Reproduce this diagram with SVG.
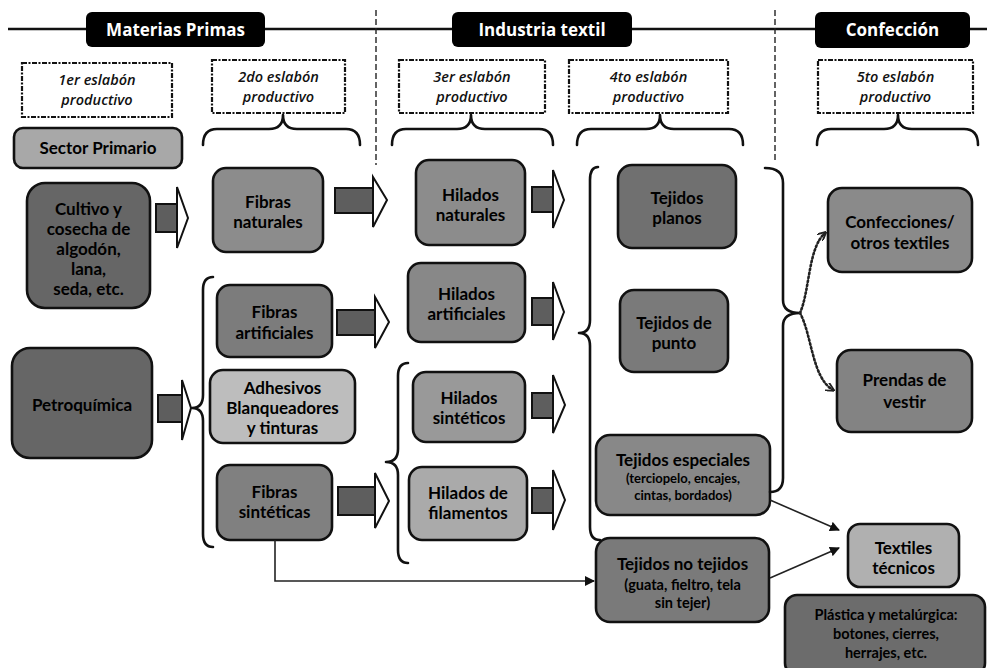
<svg xmlns="http://www.w3.org/2000/svg" width="987" height="668" viewBox="0 0 987 668">
  <style>
    .hdr { fill: #000; }
    .hdr-t { fill: #fff; font-family: "Open Sans", "Liberation Sans", sans-serif; font-weight: 700; font-size: 17px; text-anchor: middle; }
    .esl { fill: #fff; stroke: #111; stroke-width: 2.2; stroke-dasharray: 5 1.5 2 1.5; }
    .esl-t { fill: #111; font-family: "Open Sans", "Liberation Sans", sans-serif; font-style: italic; font-weight: 600; font-size: 14.5px; text-anchor: middle; }
    .node { stroke: #111; stroke-width: 2.6; }
    .nt { fill: #000; font-family: Lato, "Liberation Sans", sans-serif; font-weight: 700; font-size: 17px; text-anchor: middle; }
    .nt-s { font-size: 13px; }
    .nt-m { font-size: 14.5px; }
    .brace { fill: none; stroke: #111; stroke-width: 2.6; stroke-linecap: round; stroke-linejoin: round; }
    .shaft { fill: #5e5e5e; stroke: #111; stroke-width: 2; }
    .head { fill: #fff; stroke: #111; stroke-width: 2; stroke-linejoin: miter; }
    .link { fill: none; stroke: #222; stroke-width: 1.6; }
    .dot { fill: none; stroke: #222; stroke-width: 2.6; stroke-dasharray: 1.5 2.5; stroke-linecap: round; }
    .rule { fill: none; stroke: #111; stroke-width: 2.4; }
    .divider { fill: none; stroke: #222; stroke-width: 1.4; stroke-dasharray: 6 3; }
  </style>
  <defs>
    <marker id="arr" viewBox="0 0 10 10" refX="9" refY="5" markerWidth="10" markerHeight="10" markerUnits="userSpaceOnUse" orient="auto">
      <path d="M0,0 L10,5 L0,10 Z" fill="#111"/>
    </marker>
    <marker id="arr-dot" viewBox="0 0 10 10" refX="8" refY="5" markerWidth="9" markerHeight="9" markerUnits="userSpaceOnUse" orient="auto">
      <path d="M0,0 L10,5 L0,10" fill="none" stroke="#222" stroke-width="2"/>
    </marker>
  </defs>

  <!-- title rule and column dividers -->
  <g id="frame">
    <line class="rule" x1="8" y1="29" x2="987" y2="29"/>
    <line class="divider" x1="376" y1="10" x2="376" y2="165"/>
    <line class="divider" x1="775" y1="10" x2="775" y2="163"/>
  </g>

  <!-- stage headers -->
  <g id="hdr-materias">
    <rect class="hdr" x="86" y="12" width="179" height="35" rx="6"/>
    <text class="hdr-t" x="175.5" y="36">Materias Primas</text>
  </g>
  <g id="hdr-industria">
    <rect class="hdr" x="452" y="12" width="180" height="35" rx="6"/>
    <text class="hdr-t" x="542" y="36">Industria textil</text>
  </g>
  <g id="hdr-confeccion">
    <rect class="hdr" x="815" y="12" width="155" height="36" rx="6"/>
    <text class="hdr-t" x="892.5" y="36">Confección</text>
  </g>

  <!-- links of the production chain -->
  <g id="eslabon-1">
    <rect class="esl" x="22" y="63" width="150" height="54"/>
    <text class="esl-t" x="97" y="85">1er eslabón</text>
    <text class="esl-t" x="97" y="105">productivo</text>
  </g>
  <g id="eslabon-2">
    <rect class="esl" x="212" y="60" width="133" height="53"/>
    <text class="esl-t" x="278.5" y="82">2do eslabón</text>
    <text class="esl-t" x="278.5" y="102">productivo</text>
  </g>
  <g id="eslabon-3">
    <rect class="esl" x="399" y="60" width="146" height="53"/>
    <text class="esl-t" x="472" y="82">3er eslabón</text>
    <text class="esl-t" x="472" y="102">productivo</text>
  </g>
  <g id="eslabon-4">
    <rect class="esl" x="569" y="60" width="159" height="53"/>
    <text class="esl-t" x="648.5" y="82">4to eslabón</text>
    <text class="esl-t" x="648.5" y="102">productivo</text>
  </g>
  <g id="eslabon-5">
    <rect class="esl" x="818" y="60" width="155" height="53"/>
    <text class="esl-t" x="895.5" y="82">5to eslabón</text>
    <text class="esl-t" x="895.5" y="102">productivo</text>
  </g>

  <!-- nodes -->
  <g id="sector-primario">
    <rect class="node" x="14" y="128" width="168" height="40" rx="9" fill="#a8a8a8"/>
    <text class="nt" x="98" y="154">Sector Primario</text>
  </g>
  <g id="cultivo">
    <rect class="node" x="27" y="183" width="123" height="125" rx="18" fill="#666" stroke="none"/>
    <text class="nt" x="88.5" y="215">Cultivo y</text>
    <text class="nt" x="88.5" y="235">cosecha de</text>
    <text class="nt" x="88.5" y="255">algodón,</text>
    <text class="nt" x="88.5" y="275">lana,</text>
    <text class="nt" x="88.5" y="295">seda, etc.</text>
  </g>
  <g id="petroquimica">
    <rect class="node" x="12" y="348" width="140" height="110" rx="18" fill="#666" stroke="none"/>
    <text class="nt" x="82" y="411">Petroquímica</text>
  </g>
  <g id="fibras-naturales">
    <rect class="node" x="213" y="168" width="110" height="84" rx="13" fill="#8c8c8c"/>
    <text class="nt" x="268" y="208">Fibras</text>
    <text class="nt" x="268" y="228">naturales</text>
  </g>
  <g id="fibras-artificiales">
    <rect class="node" x="217" y="285" width="115" height="72" rx="13" fill="#7c7c7c"/>
    <text class="nt" x="274.5" y="318">Fibras</text>
    <text class="nt" x="274.5" y="339">artificiales</text>
  </g>
  <g id="adhesivos">
    <rect class="node" x="210" y="370" width="145" height="73" rx="13" fill="#bdbdbd"/>
    <text class="nt" x="282.5" y="394">Adhesivos</text>
    <text class="nt" x="282.5" y="414">Blanqueadores</text>
    <text class="nt" x="282.5" y="434">y tinturas</text>
  </g>
  <g id="fibras-sinteticas">
    <rect class="node" x="217" y="465" width="115" height="75" rx="13" fill="#808080"/>
    <text class="nt" x="274.5" y="498">Fibras</text>
    <text class="nt" x="274.5" y="518">sintéticas</text>
  </g>
  <g id="hilados-naturales">
    <rect class="node" x="416" y="160" width="109" height="85" rx="13" fill="#8c8c8c"/>
    <text class="nt" x="470.5" y="201">Hilados</text>
    <text class="nt" x="470.5" y="221">naturales</text>
  </g>
  <g id="hilados-artificiales">
    <rect class="node" x="408" y="263" width="117" height="79" rx="13" fill="#888"/>
    <text class="nt" x="466.5" y="300">Hilados</text>
    <text class="nt" x="466.5" y="320">artificiales</text>
  </g>
  <g id="hilados-sinteticos">
    <rect class="node" x="413" y="372" width="112" height="70" rx="13" fill="#999"/>
    <text class="nt" x="469" y="404">Hilados</text>
    <text class="nt" x="469" y="424">sintéticos</text>
  </g>
  <g id="hilados-filamentos">
    <rect class="node" x="409" y="467" width="118" height="73" rx="13" fill="#aaa"/>
    <text class="nt" x="468" y="499">Hilados de</text>
    <text class="nt" x="468" y="519">filamentos</text>
  </g>
  <g id="tejidos-planos">
    <rect class="node" x="618" y="165" width="118" height="83" rx="14" fill="#707070"/>
    <text class="nt" x="677" y="204">Tejidos</text>
    <text class="nt" x="677" y="224">planos</text>
  </g>
  <g id="tejidos-punto">
    <rect class="node" x="620" y="290" width="108" height="82" rx="14" fill="#7a7a7a"/>
    <text class="nt" x="674" y="329">Tejidos de</text>
    <text class="nt" x="674" y="349">punto</text>
  </g>
  <g id="tejidos-especiales">
    <rect class="node" x="596" y="435" width="174" height="80" rx="14" fill="#888"/>
    <text class="nt" x="683" y="466">Tejidos especiales</text>
    <text class="nt nt-s" x="683" y="483">(terciopelo, encajes,</text>
    <text class="nt nt-s" x="683" y="500">cintas, bordados)</text>
  </g>
  <g id="tejidos-no-tejidos">
    <rect class="node" x="596" y="538" width="173" height="84" rx="14" fill="#7a7a7a"/>
    <text class="nt" x="682.5" y="570">Tejidos no tejidos</text>
    <text class="nt nt-m" x="682.5" y="590">(guata, fieltro, tela</text>
    <text class="nt nt-m" x="682.5" y="608">sin tejer)</text>
  </g>
  <g id="confecciones">
    <rect class="node" x="828" y="188" width="144" height="84" rx="14" fill="#8a8a8a"/>
    <text class="nt" x="900" y="228">Confecciones/</text>
    <text class="nt" x="900" y="249">otros textiles</text>
  </g>
  <g id="prendas">
    <rect class="node" x="837" y="350" width="135" height="82" rx="14" fill="#838383"/>
    <text class="nt" x="904.5" y="386">Prendas de</text>
    <text class="nt" x="904.5" y="408">vestir</text>
  </g>
  <g id="textiles-tecnicos">
    <rect class="node" x="848" y="524" width="111" height="63" rx="12" fill="#b0b0b0"/>
    <text class="nt" x="903.5" y="554">Textiles</text>
    <text class="nt" x="903.5" y="574">técnicos</text>
  </g>
  <g id="plastica">
    <rect class="node" x="785" y="595" width="200" height="80" rx="12" fill="#6c6c6c" stroke="none"/>
    <text class="nt nt-m" x="886" y="620">Plástica y metalúrgica:</text>
    <text class="nt nt-m" x="886" y="639">botones, cierres,</text>
    <text class="nt nt-m" x="886" y="658">herrajes, etc.</text>
  </g>

  <!-- connectors: braces, block arrows, lines -->
  <g id="connectors">
    <!-- braces under each link -->
    <path class="brace" d="M203,145 Q203,129 217,129 L269,129 Q283,129 283,115 Q283,129 297,129 L346,129 Q360,129 360,145"/>
    <path class="brace" d="M392,145 Q392,129 406,129 L457,129 Q471,129 471,115 Q471,129 485,129 L539,129 Q553,129 553,145"/>
    <path class="brace" d="M577,145 Q577,129 591,129 L646,129 Q660,129 660,115 Q660,129 674,129 L729,129 Q743,129 743,145"/>
    <path class="brace" d="M817,145 Q817,129 831,129 L884,129 Q898,129 898,115 Q898,129 912,129 L964,129 Q978,129 978,145"/>

    <!-- grouping braces -->
    <path class="brace" d="M213,277 Q203,277 203,290 L203,395 Q203,408 192,408 Q203,408 203,421 L203,534 Q203,547 213,547"/>
    <path class="brace" d="M408,363 Q398,363 398,376 L398,449 Q398,462 386,462 Q398,462 398,475 L398,550 Q398,563 408,563"/>
    <path class="brace" d="M598,167 Q590,167 590,180 L590,320 Q590,333 579,333 Q590,333 590,346 L590,527 Q590,540 600,540"/>
    <path class="brace" d="M765,168 Q783,168 783,183 L783,300 Q783,313 800,313 Q783,313 783,326 L783,478 Q783,492 770,492"/>

    <!-- block arrows -->
    <rect class="shaft" x="156" y="204" width="21" height="28"/>
    <polygon class="head" points="177,187 188,218 177,248"/>
    <rect class="shaft" x="335" y="188" width="38" height="25"/>
    <polygon class="head" points="373,177 387,200 373,227"/>
    <rect class="shaft" x="532" y="187" width="21" height="25"/>
    <polygon class="head" points="553,170 564,200 553,228"/>
    <rect class="shaft" x="158" y="395" width="24" height="27"/>
    <polygon class="head" points="182,380 191,408 182,440"/>
    <rect class="shaft" x="337" y="310" width="38" height="25"/>
    <polygon class="head" points="375,297 389,322 375,348"/>
    <rect class="shaft" x="532" y="298" width="21" height="27"/>
    <polygon class="head" points="553,282 564,312 553,340"/>
    <rect class="shaft" x="338" y="487" width="37" height="28"/>
    <polygon class="head" points="375,473 389,501 375,528"/>
    <rect class="shaft" x="532" y="393" width="21" height="25"/>
    <polygon class="head" points="553,375 565,405 553,433"/>
    <rect class="shaft" x="532" y="488" width="21" height="25"/>
    <polygon class="head" points="553,470 565,500 553,530"/>

    <!-- dotted branches to garment nodes -->
    <path class="dot" d="M800,313 C810,290 808,248 825,233" marker-end="url(#arr-dot)"/>
    <path class="dot" d="M800,313 C812,335 812,378 833,390" marker-end="url(#arr-dot)"/>

    <!-- lines to technical textiles -->
    <line class="link" x1="770" y1="500" x2="839" y2="530" marker-end="url(#arr)"/>
    <line class="link" x1="770" y1="578" x2="839" y2="548" marker-end="url(#arr)"/>

    <!-- synthetic fibres straight to nonwovens -->
    <path class="link" d="M275,540 V581 H594" marker-end="url(#arr)"/>
  </g>
</svg>
